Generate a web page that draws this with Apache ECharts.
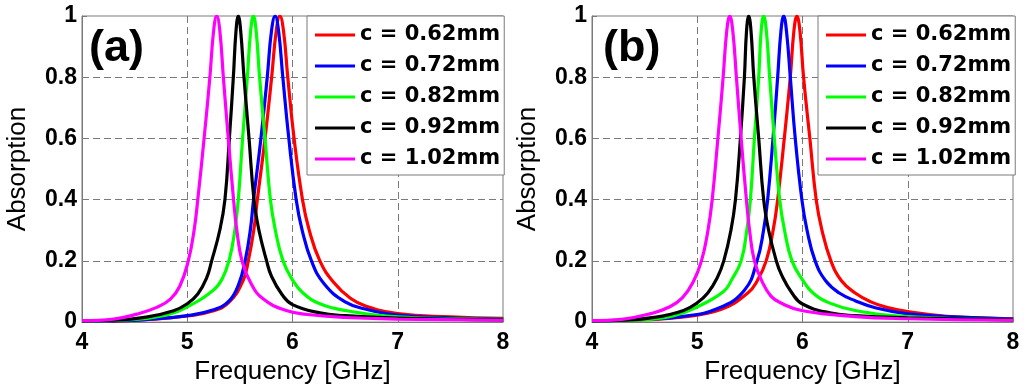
<!DOCTYPE html>
<html>
<head>
<meta charset="utf-8">
<script src="https://cdn.jsdelivr.net/npm/echarts@6/dist/echarts.min.js"></script>
<style>html,body{margin:0;padding:0;background:#fff;}#c{width:1024px;height:390px;}</style>
</head>
<body>
<div id="c"></div>
<script>
// ---- data (frequency GHz, absorption) ----
const seriesNames = ['c = 0.62mm', 'c = 0.72mm', 'c = 0.82mm', 'c = 0.92mm', 'c = 1.02mm'];
const seriesColors = ['#ff0000', '#0000ff', '#00ff00', '#000000', '#ff00ff'];
const xRange = [4, 8];
const yRange = [0, 1];
const panelLabels = ['(a)', '(b)'];

// Panel (a)
const redA = [[4.0,0.003],[4.3,0.004],[4.6,0.008],[5.0,0.02],[5.25,0.037],[5.4,0.066],[5.53,0.135],[5.58,0.2],[5.632,0.3],[5.666,0.4],[5.739,0.6],[5.802,0.8],[5.845,0.95],[5.88,1.0],[5.915,0.95],[5.955,0.8],[6.015,0.6],[6.095,0.4],[6.159,0.3],[6.26,0.2],[6.39,0.13],[6.55,0.078],[6.7,0.052],[7.0,0.028],[7.5,0.017],[8.0,0.012]];
const blueA = [[4.0,0.003],[4.3,0.004],[4.6,0.008],[5.0,0.021],[5.25,0.04],[5.4,0.07],[5.49,0.125],[5.55,0.2],[5.599,0.3],[5.63,0.4],[5.70,0.6],[5.76,0.8],[5.80,0.95],[5.835,1.0],[5.868,0.95],[5.908,0.8],[5.965,0.6],[6.035,0.4],[6.092,0.3],[6.18,0.2],[6.3,0.125],[6.5,0.066],[6.7,0.042],[7.0,0.023],[7.5,0.014],[8.0,0.01]];
const greenA = [[4.0,0.004],[4.45,0.008],[4.77,0.021],[5.0,0.05],[5.25,0.105],[5.33,0.14],[5.40,0.205],[5.452,0.3],[5.485,0.4],[5.526,0.6],[5.571,0.8],[5.602,0.95],[5.628,1.0],[5.655,0.95],[5.687,0.8],[5.739,0.6],[5.79,0.4],[5.837,0.3],[5.91,0.2],[6.0,0.138],[6.1,0.095],[6.26,0.06],[6.5,0.038],[7.0,0.017],[7.7,0.01],[8.0,0.009]];
const blackA = [[4.0,0.004],[4.3,0.006],[4.61,0.016],[4.87,0.037],[5.0,0.06],[5.1,0.092],[5.185,0.145],[5.232,0.2],[5.309,0.3],[5.358,0.4],[5.40,0.6],[5.438,0.8],[5.463,0.95],[5.485,1.0],[5.508,0.95],[5.539,0.8],[5.587,0.6],[5.634,0.4],[5.681,0.3],[5.754,0.2],[5.8,0.15],[5.9,0.09],[6.0,0.057],[6.26,0.03],[6.5,0.021],[7.0,0.013],[8.0,0.007]];
const magentaA = [[4.0,0.005],[4.3,0.01],[4.52,0.026],[4.71,0.048],[4.84,0.075],[4.93,0.118],[5.01,0.2],[5.065,0.3],[5.10,0.4],[5.16,0.6],[5.215,0.8],[5.25,0.95],[5.28,1.0],[5.31,0.95],[5.343,0.8],[5.39,0.6],[5.44,0.4],[5.471,0.3],[5.52,0.2],[5.6,0.13],[5.72,0.076],[5.94,0.038],[6.17,0.024],[6.5,0.015],[7.0,0.01],[8.0,0.006]];

// Panel (b)
const redB = [[4.0,0.004],[4.5,0.008],[4.85,0.016],[5.23,0.042],[5.48,0.095],[5.57,0.135],[5.655,0.2],[5.721,0.3],[5.764,0.4],[5.827,0.6],[5.884,0.8],[5.918,0.95],[5.947,1.0],[5.976,0.95],[6.01,0.8],[6.07,0.6],[6.13,0.4],[6.185,0.3],[6.27,0.2],[6.37,0.135],[6.5,0.095],[6.65,0.066],[6.8,0.048],[7.0,0.034],[7.37,0.019],[8.0,0.011]];
const blueB = [[4.0,0.004],[4.5,0.009],[4.85,0.018],[5.2,0.045],[5.45,0.105],[5.568,0.2],[5.63,0.3],[5.669,0.4],[5.72,0.6],[5.764,0.8],[5.795,0.95],[5.821,1.0],[5.848,0.95],[5.884,0.8],[5.931,0.6],[5.994,0.4],[6.043,0.3],[6.12,0.2],[6.22,0.135],[6.35,0.095],[6.5,0.07],[6.7,0.046],[7.0,0.027],[7.5,0.016],[8.0,0.01]];
const greenB = [[4.0,0.004],[4.45,0.007],[4.77,0.02],[5.0,0.05],[5.25,0.1],[5.33,0.14],[5.417,0.2],[5.471,0.3],[5.505,0.4],[5.543,0.6],[5.584,0.8],[5.607,0.95],[5.631,1.0],[5.657,0.95],[5.688,0.8],[5.732,0.6],[5.783,0.4],[5.829,0.3],[5.90,0.2],[6.0,0.138],[6.1,0.095],[6.26,0.062],[6.5,0.038],[7.0,0.018],[8.0,0.008]];
const blackB = [[4.0,0.004],[4.3,0.006],[4.61,0.016],[4.87,0.038],[5.0,0.063],[5.1,0.095],[5.19,0.145],[5.252,0.2],[5.32,0.3],[5.363,0.4],[5.41,0.6],[5.448,0.8],[5.468,0.95],[5.489,1.0],[5.511,0.95],[5.537,0.8],[5.584,0.6],[5.631,0.4],[5.678,0.3],[5.751,0.2],[5.8,0.155],[5.9,0.095],[6.0,0.059],[6.26,0.03],[6.5,0.021],[7.0,0.014],[8.0,0.007]];
const magentaB = [[4.0,0.005],[4.3,0.01],[4.55,0.027],[4.74,0.05],[4.86,0.08],[4.96,0.13],[5.04,0.2],[5.102,0.3],[5.142,0.4],[5.196,0.6],[5.246,0.8],[5.28,0.95],[5.309,1.0],[5.338,0.95],[5.372,0.8],[5.417,0.6],[5.467,0.4],[5.497,0.3],[5.543,0.2],[5.62,0.13],[5.7,0.085],[5.79,0.063],[6.0,0.037],[6.5,0.018],[7.0,0.011],[8.0,0.006]];

const panelData = [
  [redA, blueA, greenA, blackA, magentaA],
  [redB, blueB, greenB, blackB, magentaB]
];

// ---- chart ----
const chart = echarts.init(document.getElementById('c'), null, {renderer: 'canvas'});
const frameColor = '#7a7a7a';
const tickFont = 'Liberation Sans';

const grids = [
  {left: 82, right: 521, top: 16, bottom: 67},
  {left: 592, right: 11, top: 16, bottom: 67}
];

function makeX(i) {
  return {
    gridIndex: i, type: 'value', min: xRange[0], max: xRange[1], interval: 1,
    name: 'Frequency [GHz]', nameLocation: 'middle', nameGap: 30,
    nameTextStyle: {fontFamily: tickFont, fontSize: 26, color: '#000'},
    axisLine: {show: true, onZero: false, lineStyle: {color: frameColor, width: 1}},
    axisTick: {show: true, inside: true, length: 5, lineStyle: {color: frameColor}},
    axisLabel: {fontFamily: tickFont, fontWeight: 'bold', fontSize: 23, color: '#000', margin: 9},
    splitLine: {show: true, showMinLine: false, showMaxLine: false, lineStyle: {type: [7, 4], color: '#7a7a7a', width: 1}}
  };
}
function makeY(i) {
  return {
    gridIndex: i, type: 'value', min: yRange[0], max: yRange[1], interval: 0.2,
    name: 'Absorption', nameLocation: 'middle', nameGap: 51,
    nameTextStyle: {fontFamily: tickFont, fontSize: 26, color: '#000'},
    axisLine: {show: true, onZero: false, lineStyle: {color: frameColor, width: 1}},
    axisTick: {show: true, inside: true, length: 5, lineStyle: {color: frameColor}},
    axisLabel: {fontFamily: tickFont, fontWeight: 'bold', fontSize: 23, color: '#000', margin: 5},
    splitLine: {show: true, showMinLine: false, showMaxLine: false, lineStyle: {type: [7, 4], color: '#7a7a7a', width: 1}}
  };
}

const series = [];
panelData.forEach((curves, p) => {
  curves.forEach((d, k) => {
    series.push({
      type: 'line', name: seriesNames[k], data: d,
      xAxisIndex: p, yAxisIndex: p,
      symbol: 'none', showSymbol: false,
      smooth: 0.45,
      lineStyle: {color: seriesColors[k], width: 3.2},
      itemStyle: {color: seriesColors[k]},
      emphasis: {disabled: true}, silent: true, animation: false,
      clip: true
    });
  });
});

function makeLegend(left) {
  return {
    left: left, top: 16, orient: 'vertical',
    data: seriesNames.map(n => ({name: n, icon: 'rect'})),
    itemWidth: 40, itemHeight: 3, itemGap: 9,
    padding: [8, 4, 5, 8],
    backgroundColor: '#fff', borderColor: frameColor, borderWidth: 1, borderRadius: 0,
    selectedMode: false,
    itemStyle: {borderWidth: 0},
    textStyle: {fontFamily: 'DejaVu Sans', fontWeight: 'bold', fontSize: 21, color: '#000', lineHeight: 22}
  };
}

chart.setOption({
  animation: false,
  backgroundColor: '#fff',
  grid: grids.map(g => Object.assign({show: true, borderColor: frameColor, borderWidth: 1, backgroundColor: 'transparent'}, g)),
  xAxis: [makeX(0), makeX(1)],
  yAxis: [makeY(0), makeY(1)],
  legend: [makeLegend(307), makeLegend(818)],
  graphic: [
    {type: 'text', left: 89, top: 26, z: 10, style: {text: panelLabels[0], font: 'bold 45px "Liberation Sans"', fill: '#000'}},
    {type: 'text', left: 603, top: 26, z: 10, style: {text: panelLabels[1], font: 'bold 45px "Liberation Sans"', fill: '#000'}}
  ],
  series: series
});
</script>
</body>
</html>
